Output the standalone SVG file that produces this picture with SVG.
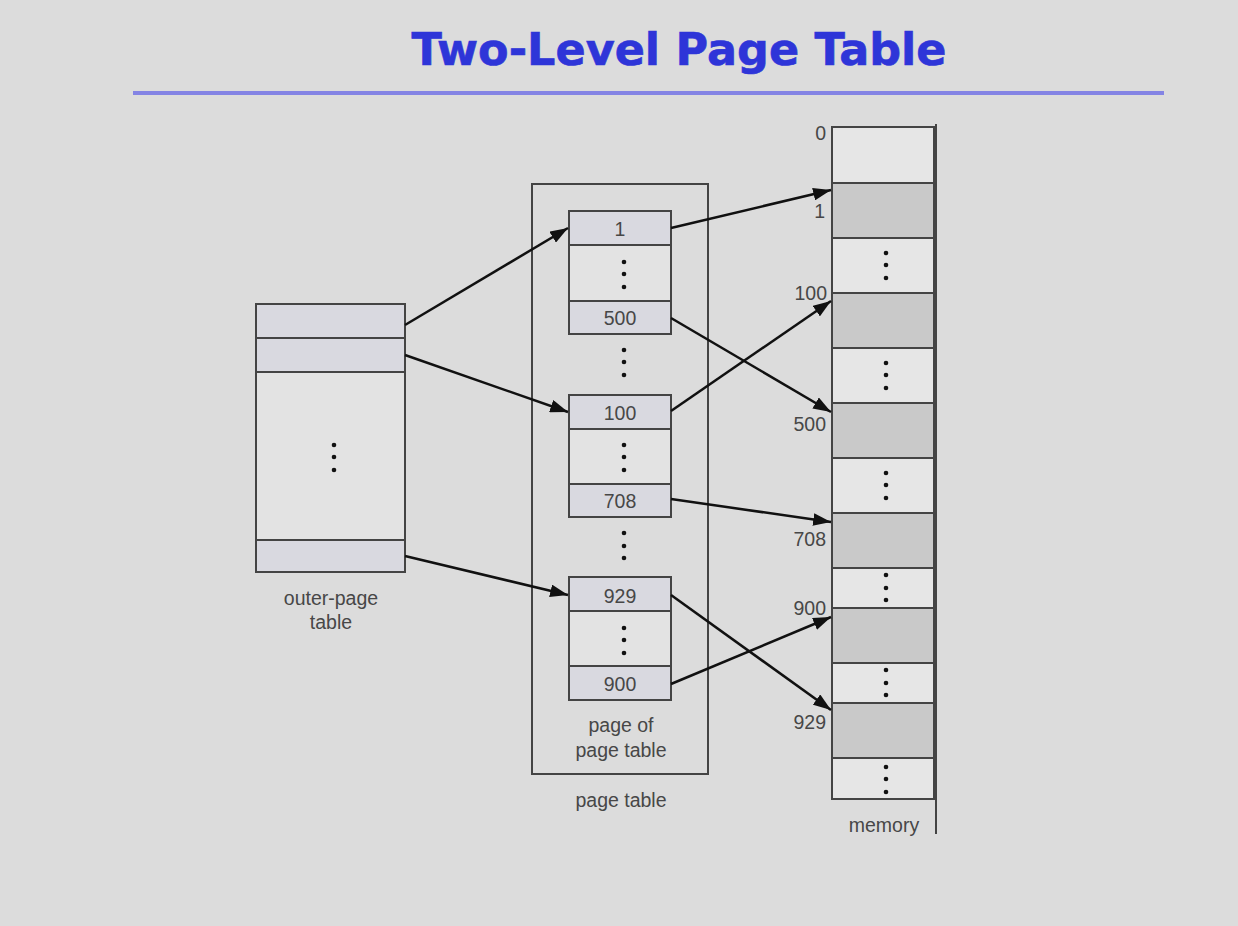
<svg xmlns="http://www.w3.org/2000/svg" width="1238" height="926" viewBox="0 0 1238 926">
<defs>
<marker id="ah" viewBox="0 0 14 10" refX="14" refY="5" markerWidth="7.2" markerHeight="5.1" markerUnits="strokeWidth" orient="auto">
<path d="M0,0 L14,5 L0,10 z" fill="#111"/>
</marker>
</defs>
<style>
.cell{stroke:#444;stroke-width:2;}
.sh{fill:#d9d9e0;}
.bl{fill:#e3e3e3;}
.ms{fill:#c9c9c9;}
.mb{fill:#e6e6e6;}
.t{font-family:"Liberation Sans",Arial,sans-serif;font-size:19.5px;fill:#474747;}
.c{text-anchor:middle;}
.r{text-anchor:end;}
.dot{fill:#111;}
.conn line{stroke:#111;stroke-width:2.5;marker-end:url(#ah);}
</style>
<rect width="1238" height="926" fill="#dcdcdc"/>
<g id="title">
<text x="679" y="65" text-anchor="middle" font-family="'DejaVu Sans',Verdana,sans-serif" font-weight="bold" font-size="44.5" fill="#2e35d8" stroke="#2e35d8" stroke-width="0.6">Two-Level Page Table</text>
<line x1="133" y1="93" x2="1164" y2="93" stroke="#8484e4" stroke-width="4"/>
</g>
<g id="outer-page-table">
<rect class="cell sh" x="256" y="304" width="149" height="34"/>
<rect class="cell sh" x="256" y="338" width="149" height="34"/>
<rect class="cell bl" x="256" y="372" width="149" height="168"/>
<rect class="cell sh" x="256" y="540" width="149" height="32"/>
<circle class="dot" cx="334" cy="445" r="2.3"/><circle class="dot" cx="334" cy="457" r="2.3"/><circle class="dot" cx="334" cy="470" r="2.3"/>
<text class="t c" x="331" y="605">outer-page</text>
<text class="t c" x="331" y="629">table</text>
</g>
<g id="page-table">
<rect x="532" y="184" width="176" height="590" fill="none" stroke="#444" stroke-width="2"/>
<text class="t c" x="621" y="807">page table</text>
</g>
<g id="page-of-page-table">
<rect class="cell sh" x="569" y="211" width="102" height="34"/>
<rect class="cell bl" x="569" y="245" width="102" height="56"/>
<rect class="cell sh" x="569" y="301" width="102" height="33"/>
<text class="t c" x="620" y="236">1</text>
<circle class="dot" cx="624" cy="262" r="2.3"/><circle class="dot" cx="624" cy="274" r="2.3"/><circle class="dot" cx="624" cy="287" r="2.3"/>
<text class="t c" x="620" y="325">500</text>
<circle class="dot" cx="624" cy="350" r="2.3"/><circle class="dot" cx="624" cy="362" r="2.3"/><circle class="dot" cx="624" cy="375" r="2.3"/>
<rect class="cell sh" x="569" y="395" width="102" height="34"/>
<rect class="cell bl" x="569" y="429" width="102" height="55"/>
<rect class="cell sh" x="569" y="484" width="102" height="33"/>
<text class="t c" x="620" y="420">100</text>
<circle class="dot" cx="624" cy="445" r="2.3"/><circle class="dot" cx="624" cy="457" r="2.3"/><circle class="dot" cx="624" cy="470" r="2.3"/>
<text class="t c" x="620" y="508">708</text>
<circle class="dot" cx="624" cy="533" r="2.3"/><circle class="dot" cx="624" cy="546" r="2.3"/><circle class="dot" cx="624" cy="558" r="2.3"/>
<rect class="cell sh" x="569" y="577" width="102" height="34"/>
<rect class="cell bl" x="569" y="611" width="102" height="55"/>
<rect class="cell sh" x="569" y="666" width="102" height="34"/>
<text class="t c" x="620" y="603">929</text>
<circle class="dot" cx="624" cy="628" r="2.3"/><circle class="dot" cx="624" cy="640" r="2.3"/><circle class="dot" cx="624" cy="653" r="2.3"/>
<text class="t c" x="620" y="691">900</text>
<text class="t c" x="621" y="732">page of</text>
<text class="t c" x="621" y="757">page table</text>
</g>
<g id="memory">
<rect class="cell mb" x="832" y="127" width="102" height="56"/>
<rect class="cell ms" x="832" y="183" width="102" height="55"/>
<rect class="cell mb" x="832" y="238" width="102" height="55"/>
<rect class="cell ms" x="832" y="293" width="102" height="55"/>
<rect class="cell mb" x="832" y="348" width="102" height="55"/>
<rect class="cell ms" x="832" y="403" width="102" height="55"/>
<rect class="cell mb" x="832" y="458" width="102" height="55"/>
<rect class="cell ms" x="832" y="513" width="102" height="55"/>
<rect class="cell mb" x="832" y="568" width="102" height="40"/>
<rect class="cell ms" x="832" y="608" width="102" height="55"/>
<rect class="cell mb" x="832" y="663" width="102" height="40"/>
<rect class="cell ms" x="832" y="703" width="102" height="55"/>
<rect class="cell mb" x="832" y="758" width="102" height="41"/>
<line x1="936" y1="124" x2="936" y2="834" stroke="#444" stroke-width="2"/>
<circle class="dot" cx="886" cy="253" r="2.3"/><circle class="dot" cx="886" cy="265" r="2.3"/><circle class="dot" cx="886" cy="278" r="2.3"/>
<circle class="dot" cx="886" cy="363" r="2.3"/><circle class="dot" cx="886" cy="375" r="2.3"/><circle class="dot" cx="886" cy="388" r="2.3"/>
<circle class="dot" cx="886" cy="473" r="2.3"/><circle class="dot" cx="886" cy="485" r="2.3"/><circle class="dot" cx="886" cy="498" r="2.3"/>
<circle class="dot" cx="886" cy="575" r="2.3"/><circle class="dot" cx="886" cy="588" r="2.3"/><circle class="dot" cx="886" cy="600" r="2.3"/>
<circle class="dot" cx="886" cy="670" r="2.3"/><circle class="dot" cx="886" cy="683" r="2.3"/><circle class="dot" cx="886" cy="695" r="2.3"/>
<circle class="dot" cx="886" cy="767" r="2.3"/><circle class="dot" cx="886" cy="779" r="2.3"/><circle class="dot" cx="886" cy="792" r="2.3"/>
<text class="t r" x="826" y="140">0</text>
<text class="t r" x="825" y="218">1</text>
<text class="t r" x="827" y="300">100</text>
<text class="t r" x="826" y="431">500</text>
<text class="t r" x="826" y="546">708</text>
<text class="t r" x="826" y="615">900</text>
<text class="t r" x="826" y="729">929</text>
<text class="t c" x="884" y="832">memory</text>
</g>
<g id="connectors" class="conn">
<line x1="405" y1="325" x2="568" y2="228"/>
<line x1="405" y1="355" x2="568" y2="412"/>
<line x1="405" y1="556" x2="568" y2="595"/>
<line x1="671" y1="228" x2="831" y2="190"/>
<line x1="671" y1="318" x2="831" y2="412"/>
<line x1="671" y1="411" x2="831" y2="301"/>
<line x1="671" y1="499" x2="831" y2="522"/>
<line x1="671" y1="595" x2="831" y2="710"/>
<line x1="671" y1="684" x2="831" y2="617"/>
</g>
</svg>
